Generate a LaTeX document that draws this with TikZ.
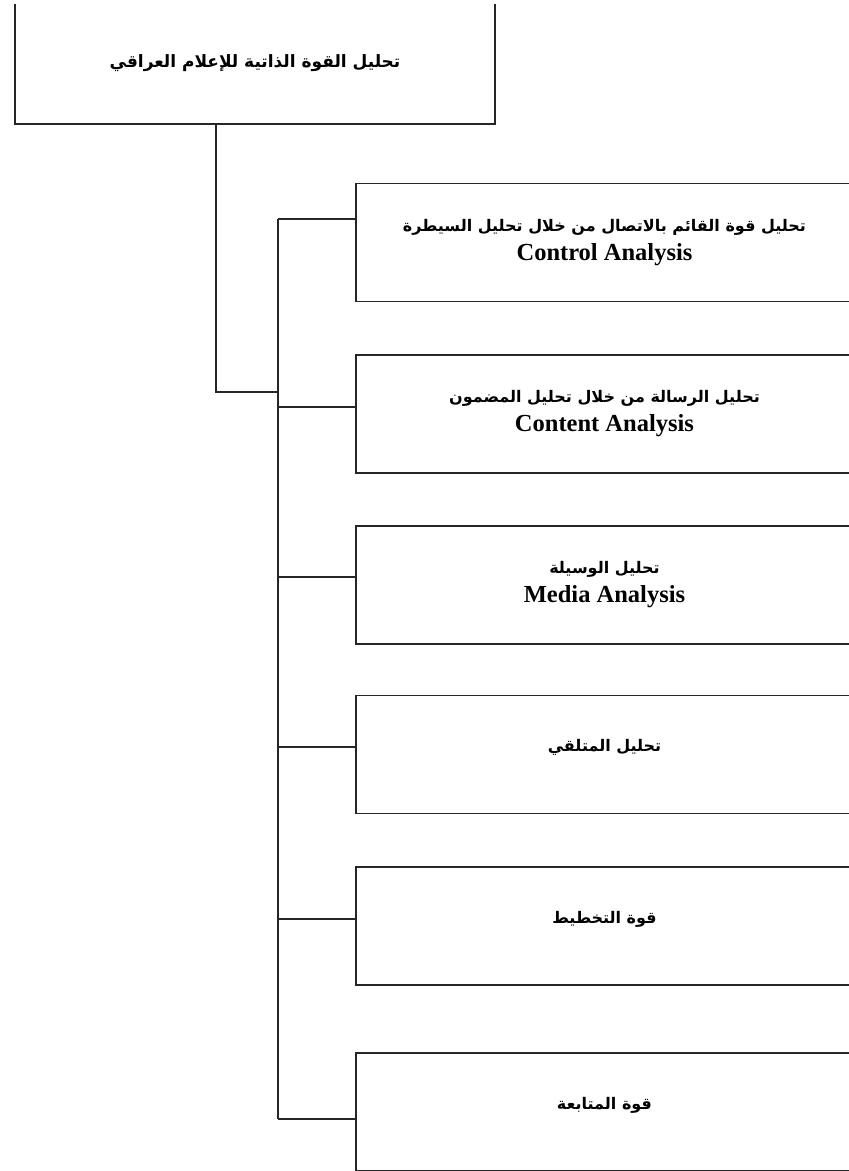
\documentclass[tikz,border=0pt]{standalone}
\usepackage{fontspec}
\setmainfont{Liberation Serif}
\newfontfamily\arabicfont[Script=Arabic]{DejaVu Sans}
\TeXXeTstate=1
\newcommand{\ar}[1]{{\arabicfont\bfseries\fontsize{16}{19}\selectfont\beginR #1\endR}}
\newcommand{\en}[1]{{\bfseries\fontsize{24.5}{28}\selectfont #1}}
\tikzset{
  line/.style={draw=black!85, line width=1.8pt},
  box/.style={line, rectangle, fill=white, minimum width=497pt, minimum height=118pt, align=center, inner sep=0pt},
  topbox/.style={line, rectangle, minimum width=480pt, minimum height=122pt, align=center, inner sep=0pt}
}
\begin{document}
\begin{tikzpicture}[x=1pt,y=-1pt]
\path[use as bounding box] (0,0) rectangle (849,1171);
\fill[white] (0,0) rectangle (849,1171);
\clip (0,4) rectangle (849,1171);
\node[topbox] (top) at (255,63) {\ar{\fontsize{17}{20}\selectfont تحليل القوة الذاتية للإعلام العراقي}};
\node[box] (b1) at (604.5,242.5) {\ar{تحليل قوة القائم بالاتصال من خلال تحليل السيطرة}\\[7pt]\en{Control Analysis}};
\node[box] (b2) at (604.5,414) {\ar{تحليل الرسالة من خلال تحليل المضمون}\\[7pt]\en{Content Analysis}};
\node[box] (b3) at (604.5,585) {\ar{تحليل الوسيلة}\\[7pt]\en{Media Analysis}};
\node[box] (b4) at (604.5,754.5) {\ar{تحليل المتلقي}\\[6pt]};
\node[box] (b5) at (604.5,926) {\ar{قوة التخطيط}\\[6pt]};
\node[box] (b6) at (604.5,1112) {\ar{قوة المتابعة}\\[6pt]};
\coordinate (tx) at (216,0);
\coordinate (j) at (278,392);
\coordinate (s1) at (278,219);
\coordinate (s2) at (278,407);
\coordinate (s3) at (278,577);
\coordinate (s4) at (278,747);
\coordinate (s5) at (278,919);
\coordinate (s6) at (278,1119);
\draw[line] (tx |- top.south) |- (j);
\draw[line] (s1) -- (s6);
\foreach \i in {1,...,6} {\draw[line] (s\i) -- (b\i.west |- s\i);}
\end{tikzpicture}
\end{document}
